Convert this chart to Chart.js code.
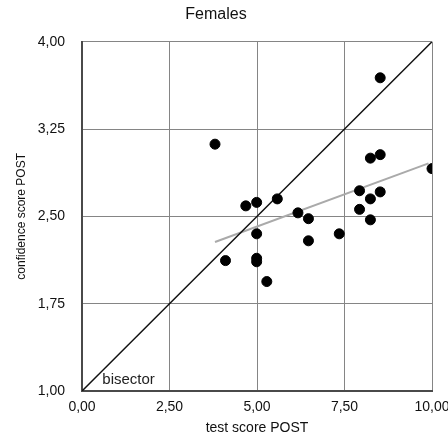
<!DOCTYPE html>
<html>
<head>
<meta charset="utf-8">
<script src="https://cdn.jsdelivr.net/npm/chart.js@4"></script>
<style>
  html, body { margin: 0; padding: 0; background: #fff; }
  #wrap { width: 448px; height: 437px; }
</style>
</head>
<body>
<div id="wrap"><canvas id="chart" width="448" height="437"></canvas></div>
<script>
// test score POST / confidence score POST
const testScores = [3.80, 4.68, 4.99, 8.52, 8.24, 8.52, 10.0, 5.58, 7.93, 8.52, 8.24, 7.93, 6.17, 6.47, 8.24, 4.99, 4.10, 4.99, 4.99, 5.28, 6.47, 7.35];
const confidenceScores = [3.12, 2.59, 2.62, 3.69, 3.00, 3.03, 2.91, 2.65, 2.72, 2.71, 2.65, 2.56, 2.53, 2.48, 2.47, 2.35, 2.12, 2.14, 2.11, 1.94, 2.29, 2.35];

const bisectorX = [0, 10];
const bisectorY = [1, 4];
const trendX = [3.80, 9.90];
const trendY = [2.28, 2.955];

const xTicks = [0, 2.5, 5, 7.5, 10];
const yTicks = [1, 1.75, 2.5, 3.25, 4];

const FONT = "'Liberation Sans', Arial, sans-serif";

function toPoints(xs, ys) {
  return xs.map((x, i) => ({ x, y: ys[i] }));
}

function fmt(v) {
  return v.toFixed(2).replace(".", ",");
}

// "bisector" text near the lower end of the diagonal
const bisectorLabel = {
  id: "bisectorLabel",
  afterDatasetsDraw(chart) {
    const { ctx, scales } = chart;
    ctx.save();
    ctx.font = "15px " + FONT;
    ctx.fillStyle = "#222";
    ctx.textBaseline = "alphabetic";
    ctx.fillText("bisector", scales.x.getPixelForValue(0.58), scales.y.getPixelForValue(1.06));
    ctx.restore();
  }
};

new Chart(document.getElementById("chart"), {
  type: "scatter",
  data: {
    datasets: [
      {
        label: "Females",
        data: toPoints(testScores, confidenceScores),
        backgroundColor: "#000",
        borderColor: "#000",
        pointRadius: 5,
        pointHoverRadius: 5
      },
      {
        label: "bisector",
        data: toPoints(bisectorX, bisectorY),
        showLine: true,
        borderColor: "#111",
        borderWidth: 1.5,
        pointRadius: 0
      },
      {
        label: "trend",
        data: toPoints(trendX, trendY),
        showLine: true,
        borderColor: "#aaa",
        borderWidth: 2,
        pointRadius: 0
      }
    ]
  },
  options: {
    responsive: false,
    animation: false,
    layout: { padding: { left: 0, right: 16, top: 0, bottom: 0 } },
    plugins: {
      legend: { display: false },
      tooltip: { enabled: false },
      title: {
        display: true,
        text: "Females",
        color: "#111",
        font: { family: FONT, size: 16, weight: "normal" },
        padding: { top: 5, bottom: 17.5 }
      }
    },
    scales: {
      x: {
        type: "linear",
        min: 0,
        max: 10,
        afterBuildTicks: (axis) => { axis.ticks = xTicks.map(v => ({ value: v })); },
        afterFit: (axis) => {
          axis.height = 46;
          axis.paddingLeft = 0;
          axis.paddingRight = 0;
        },
        ticks: {
          callback: (v) => fmt(v),
          color: "#111",
          font: { family: FONT, size: 14 },
          padding: 8,
          maxRotation: 0
        },
        grid: { color: "#858585", lineWidth: 1, drawTicks: false },
        border: { color: "#4a4a4a", width: 2 },
        title: {
          display: true,
          text: "test score POST",
          color: "#111",
          font: { family: FONT, size: 14 },
          padding: { top: 0, bottom: 0 }
        }
      },
      y: {
        type: "linear",
        min: 1,
        max: 4,
        afterBuildTicks: (axis) => { axis.ticks = yTicks.map(v => ({ value: v })); },
        afterFit: (axis) => {
          axis.width = 82;
          axis.paddingTop = 0;
          axis.paddingBottom = 0;
        },
        ticks: {
          callback: (v) => fmt(v),
          color: "#111",
          font: { family: FONT, size: 14 },
          padding: 17
        },
        grid: { color: "#858585", lineWidth: 1, drawTicks: false },
        border: { color: "#4a4a4a", width: 2 },
        title: {
          display: true,
          text: "confidence score POST",
          color: "#111",
          font: { family: FONT, size: 12 },
          padding: { top: 14, bottom: 0 }
        }
      }
    }
  },
  plugins: [bisectorLabel]
});
</script>
</body>
</html>
